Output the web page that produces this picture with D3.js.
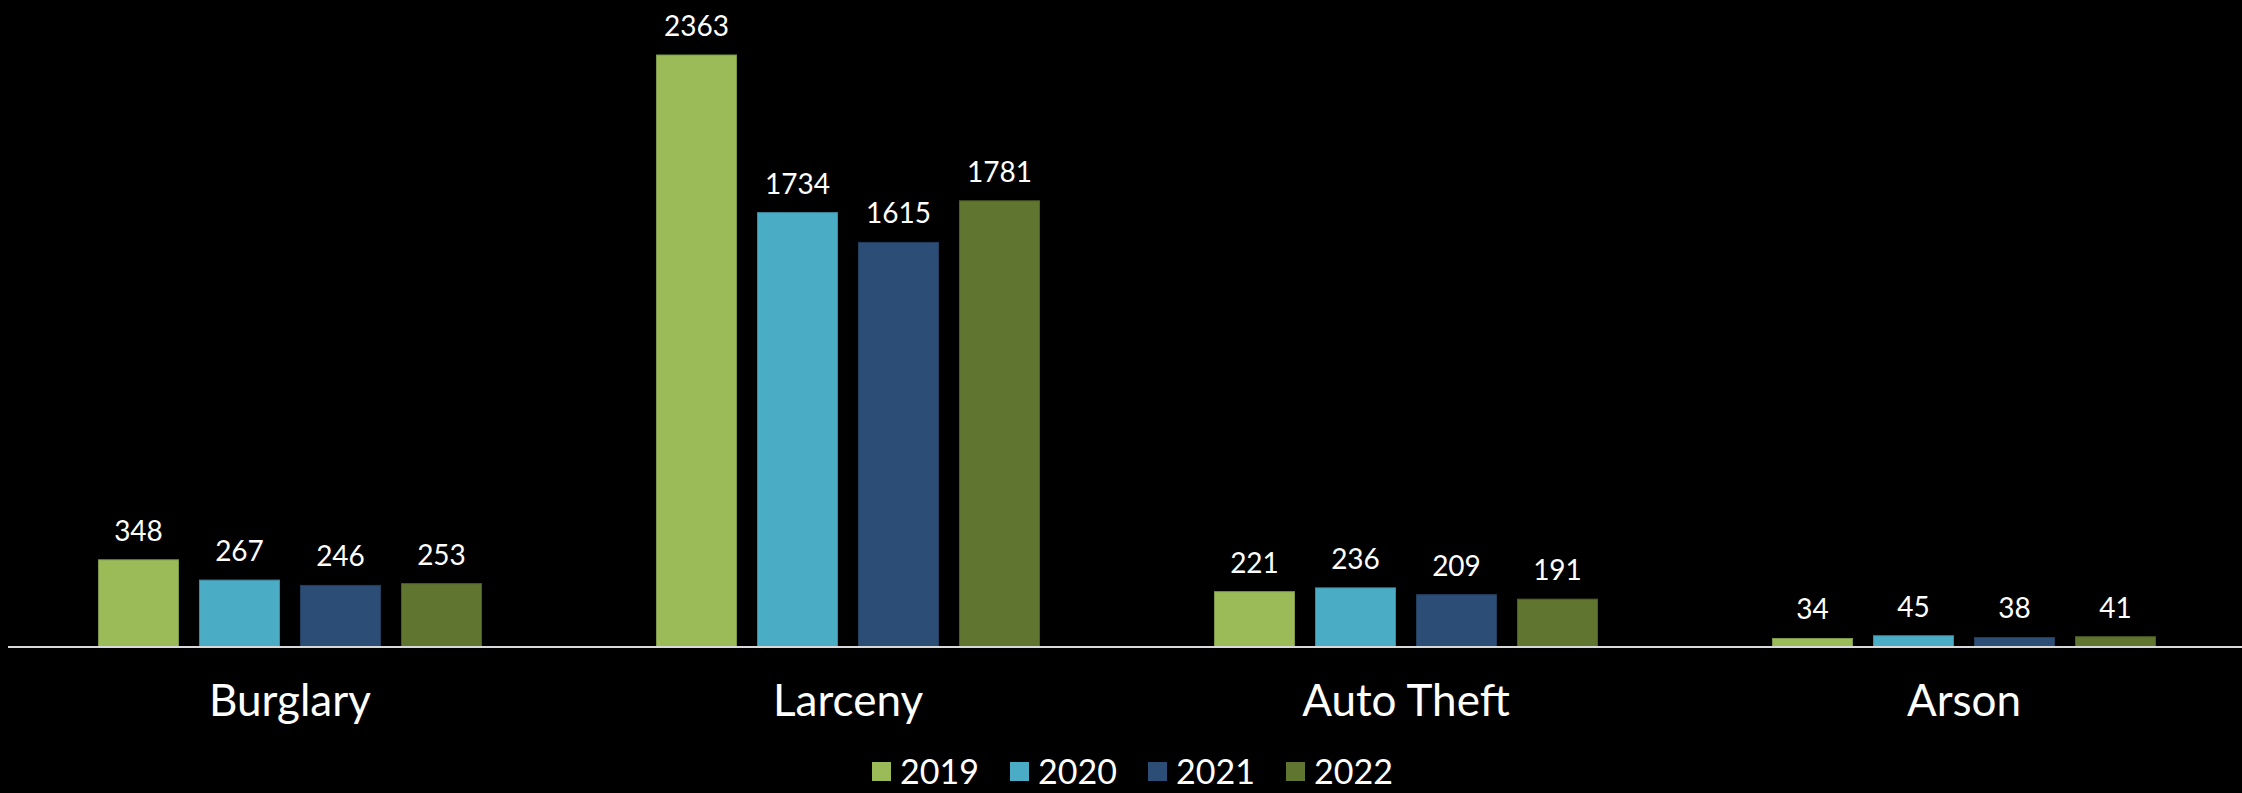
<!DOCTYPE html>
<html>
<head>
<meta charset="utf-8">
<script src="https://d3js.org/d3.v7.min.js"></script>
<style>
  html, body { margin: 0; padding: 0; background: #000; }
  svg { display: block; }
  text { font-family: Lato, "Open Sans", sans-serif; fill: #fff; }
</style>
</head>
<body>
<script>
// chart data
var categories = ["Burglary", "Larceny", "Auto Theft", "Arson"];
var years = ["2019", "2020", "2021", "2022"];
var v2019 = [348, 2363, 221, 34];
var v2020 = [267, 1734, 236, 45];
var v2021 = [246, 1615, 209, 38];
var v2022 = [253, 1781, 191, 41];
var colors = ["#9BBB59", "#4BACC6", "#2C4D75", "#5F7530"];

var series = [v2019, v2020, v2021, v2022];

var width = 2242, height = 793;
var baseY = 647;

var svg = d3.select("body").append("svg")
  .attr("width", width)
  .attr("height", height);

// group scale
var x0 = d3.scaleBand()
  .domain(categories)
  .range([11, 2243])
  .paddingInner(0)
  .paddingOuter(0);

// bars inside a group: 4 bars of 80px, 21px gap
var x1 = d3.scaleBand()
  .domain(years)
  .range([87.5, 87.5 + 4 * 80 + 3 * 21])
  .paddingInner(21 / 101)
  .paddingOuter(0);

var y = d3.scaleLinear()
  .domain([0, 2363])
  .range([baseY, 55]);

var rows = [];
categories.forEach(function(c, i) {
  years.forEach(function(yr, j) {
    rows.push({cat: c, year: yr, value: series[j][i], color: colors[j]});
  });
});

var g = svg.append("g");

g.selectAll("rect.bar")
  .data(rows)
  .enter().append("rect")
  .attr("class", "bar")
  .attr("x", function(d) { return x0(d.cat) + x1(d.year); })
  .attr("width", x1.bandwidth())
  .attr("y", function(d) { return y(d.value); })
  .attr("height", function(d) { return baseY - y(d.value); })
  .attr("fill", function(d) { return d.color; })
  .attr("stroke", function(d) { return d3.color(d.color).darker(0.6); })
  .attr("stroke-width", 1);

g.selectAll("text.val")
  .data(rows)
  .enter().append("text")
  .attr("class", "val")
  .attr("x", function(d) { return x0(d.cat) + x1(d.year) + x1.bandwidth() / 2; })
  .attr("y", function(d) { return y(d.value) - 19; })
  .attr("text-anchor", "middle")
  .style("font-size", "28px")
  .text(function(d) { return d.value; });

// axis line
var xAxis = d3.axisBottom(x0).tickSize(0).tickPadding(38);
var ax = svg.append("g")
  .attr("transform", "translate(0," + baseY + ")")
  .call(xAxis);
ax.select(".domain")
  .attr("d", "M8,0H2242")
  .attr("stroke", "#D9D9D9")
  .attr("stroke-width", 2);
ax.selectAll("text")
  .style("font-size", "44px")
  .style("font-family", "Lato, sans-serif")
  .attr("fill", "#fff");

// legend
var legend = svg.append("g").attr("transform", "translate(872,762)");
var item = legend.selectAll("g")
  .data(years)
  .enter().append("g")
  .attr("transform", function(d, i) { return "translate(" + i * 138 + ",0)"; });
item.append("rect")
  .attr("width", 19)
  .attr("height", 19)
  .attr("fill", function(d, i) { return colors[i]; });
item.append("text")
  .attr("x", 28)
  .attr("y", 22)
  .style("font-size", "34px")
  .text(function(d) { return d; });
</script>
</body>
</html>
